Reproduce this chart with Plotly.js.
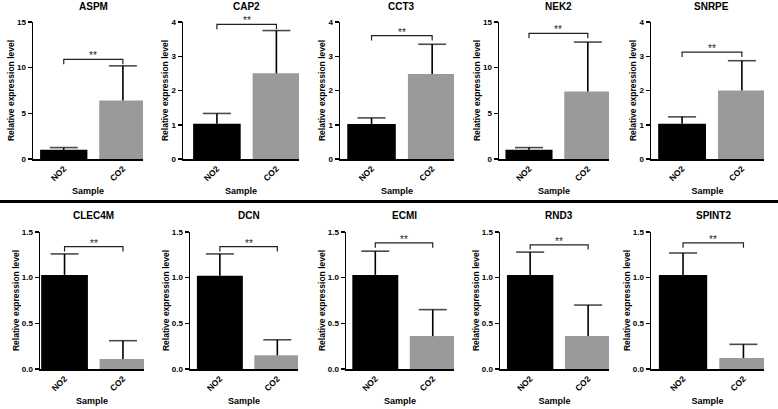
<!DOCTYPE html>
<html>
<head>
<meta charset="utf-8">
<script src="https://cdn.plot.ly/plotly-3.0.1.min.js"></script>
<style>html,body{margin:0;padding:0;background:#fff}#chart{width:778px;height:409px}</style>
</head>
<body>
<div id="chart"></div>
<script>
// ---- data ----
var genes = ['ASPM','CAP2','CCT3','NEK2','SNRPE','CLEC4M','DCN','ECMI','RND3','SPINT2'];
var groups = ['NO2','CO2'];
var no2Mean = [1.00, 1.03, 1.02, 1.00, 1.03, 1.03, 1.02, 1.03, 1.03, 1.03];
var no2ErrUp = [0.25, 0.30, 0.18, 0.25, 0.20, 0.23, 0.24, 0.26, 0.25, 0.24];
var co2Mean = [6.40, 2.50, 2.48, 7.40, 2.00, 0.11, 0.15, 0.36, 0.36, 0.12];
var co2ErrUp = [3.80, 1.25, 0.87, 5.40, 0.87, 0.20, 0.17, 0.29, 0.34, 0.15];
var yMax = [15, 4, 4, 15, 4, 1.5, 1.5, 1.5, 1.5, 1.5];
var yDtick = [5, 1, 1, 5, 1, 0.5, 0.5, 0.5, 0.5, 0.5];
var bracketY = [10.9, 3.93, 3.6, 13.75, 3.12, 1.34, 1.34, 1.38, 1.36, 1.38];
var sigLabel = ['**','**','**','**','**','**','**','**','**','**'];

// ---- layout geometry (pixels) ----
var W = 778, H = 409;
var panelPx = [[33,143],[183,299],[340,454],[499,609],[651,764],
               [40,144],[190,298],[346,454],[500,609],[651,764]];
var xRanges = [[-0.52,1.34],[-0.57,1.38],[-0.52,1.36],[-0.51,1.36],[-0.52,1.37],
               [-0.42,1.36],[-0.52,1.36],[-0.51,1.37],[-0.52,1.36],[-0.53,1.34]];
var rowPx = [[22,159],[232,369]];
var titleBottomPx = [13.5, 223];

var FONT = 'Liberation Sans, Arial, sans-serif';
var traces = [];
var layout = {
  width: W, height: H,
  margin: {l:0, r:0, t:0, b:0},
  paper_bgcolor: '#fff', plot_bgcolor: '#fff',
  showlegend: false,
  font: {family: FONT, color: '#000'},
  annotations: [], shapes: []
};

function errTrace(xa, ya, g, m, e) {
  return {
    type: 'scatter', mode: 'lines+markers', x: [g, g], y: [m, m + e],
    xaxis: xa, yaxis: ya, line: {color: '#000', width: 1.6},
    marker: {symbol: 'line-ew', size: [0, 20], color: '#000', line: {color: '#000', width: 1.6}},
    hoverinfo: 'none', cliponaxis: false
  };
}

for (var i = 0; i < genes.length; i++) {
  var n = i + 1;
  var xa = 'x' + (n === 1 ? '' : n), ya = 'y' + (n === 1 ? '' : n);
  var xk = 'xaxis' + (n === 1 ? '' : n), yk = 'yaxis' + (n === 1 ? '' : n);
  var row = i < 5 ? 0 : 1;
  var dom = [1 - rowPx[row][1] / H, 1 - rowPx[row][0] / H];
  traces.push({
    type: 'bar', x: groups, y: [no2Mean[i], co2Mean[i]],
    xaxis: xa, yaxis: ya,
    marker: {color: ['#000000', '#9a9a9a'], line: {width: 0}},
    hoverinfo: 'none'
  });
  traces.push(errTrace(xa, ya, groups[0], no2Mean[i], no2ErrUp[i]));
  traces.push(errTrace(xa, ya, groups[1], co2Mean[i], co2ErrUp[i]));
  var d = 0.035 * yMax[i];
  traces.push({
    type: 'scatter', mode: 'lines', x: [groups[0], groups[0], groups[1], groups[1]],
    y: [bracketY[i] - d, bracketY[i], bracketY[i], bracketY[i] - d],
    xaxis: xa, yaxis: ya, line: {color: '#222', width: 1.2}, hoverinfo: 'none', cliponaxis: false
  });
  var bracketPaper = dom[0] + (dom[1] - dom[0]) * bracketY[i] / yMax[i];
  layout.annotations.push({
    xref: xa, yref: 'paper', x: 0.5, y: bracketPaper + 11 / H,
    text: sigLabel[i], showarrow: false, font: {size: 10, color: '#222', family: FONT},
    xanchor: 'center', yanchor: 'top'
  });
  layout.annotations.push({
    xref: xa, yref: 'paper', x: 0.5, y: 1 - titleBottomPx[row] / H,
    text: '<b>' + genes[i] + '</b>', showarrow: false,
    font: {size: 10, color: '#000', family: FONT}, xanchor: 'center', yanchor: 'bottom'
  });
  layout[xk] = {
    domain: [panelPx[i][0] / W, panelPx[i][1] / W], anchor: ya,
    type: 'category', range: xRanges[i],
    showline: true, linecolor: '#000', linewidth: 1.5, ticks: '',
    showgrid: false, zeroline: false, tickangle: -45,
    tickfont: {size: 8.5, family: FONT, weight: 'bold'},
    title: {text: '<b>Sample</b>', font: {size: 9, family: FONT}, standoff: 5}
  };
  layout[yk] = {
    domain: dom, anchor: xa,
    range: [0, yMax[i]], dtick: yDtick[i], tick0: 0,
    tickformat: yMax[i] < 2 ? '.1f' : '',
    showline: true, linecolor: '#000', linewidth: 1.5,
    ticks: 'outside', ticklen: 4, tickwidth: 1.5, tickcolor: '#000',
    showgrid: false, zeroline: false,
    tickfont: {size: 8, family: FONT, weight: 'bold'},
    title: {text: '<b>Relative expression level</b>', font: {size: 8.5, family: FONT}, standoff: 1}
  };
}
layout.shapes.push({type: 'line', xref: 'paper', yref: 'paper', x0: 0, x1: 1,
  y0: 1 - 201.5 / H, y1: 1 - 201.5 / H, line: {color: '#000', width: 3}});

Plotly.newPlot('chart', traces, layout, {staticPlot: true, displayModeBar: false});
</script>
</body>
</html>
